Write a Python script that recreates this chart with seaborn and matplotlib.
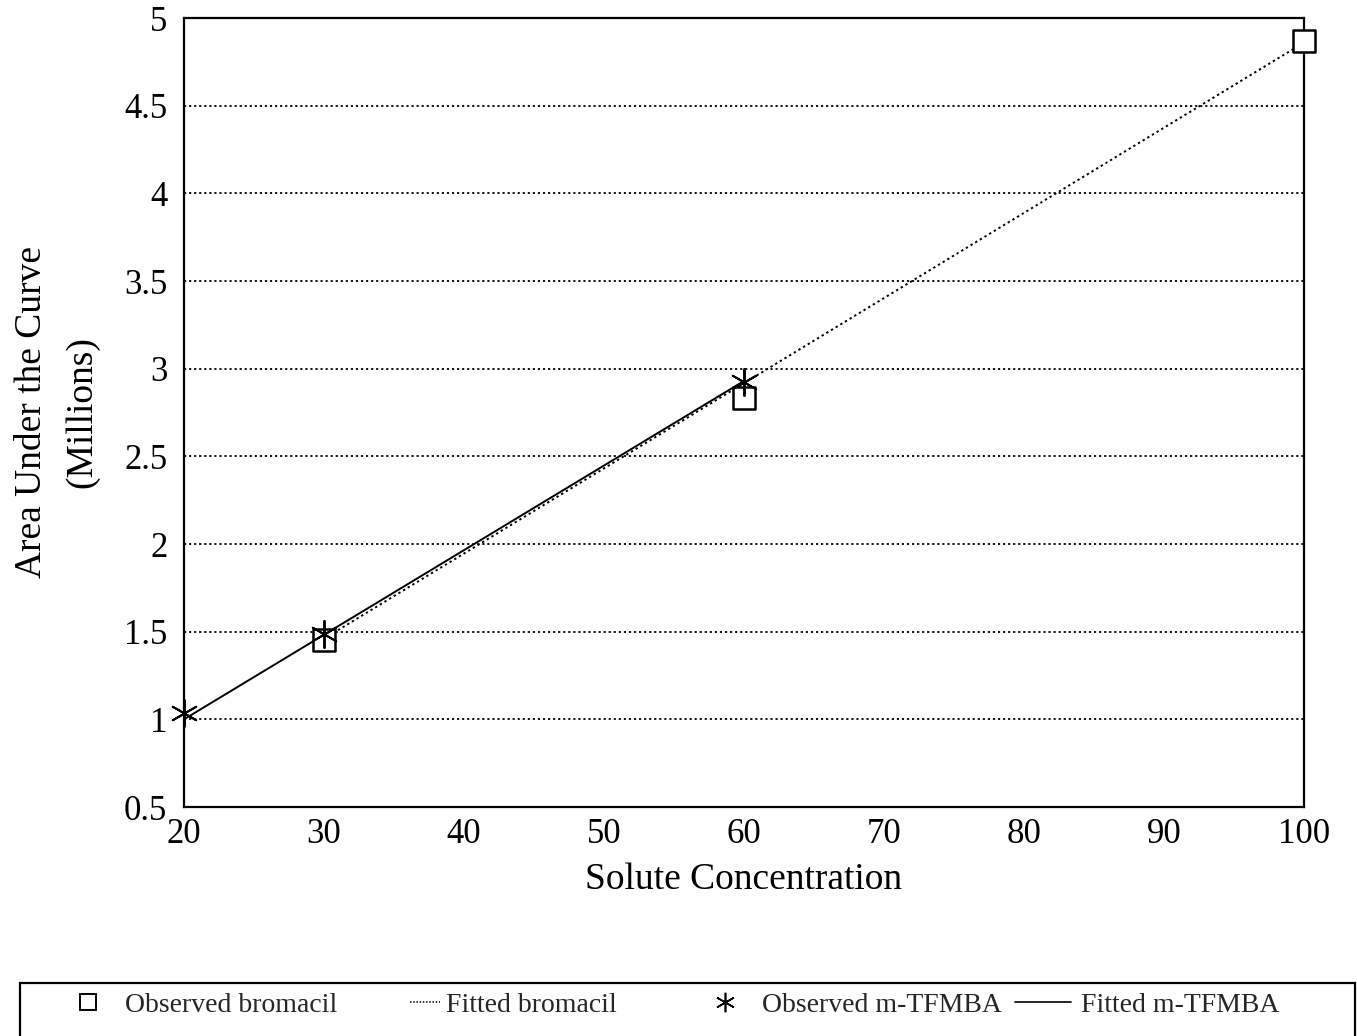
import matplotlib
matplotlib.use("Agg")
import matplotlib.pyplot as plt
from matplotlib.patches import Rectangle
from matplotlib.lines import Line2D
import seaborn as sns
import pandas as pd

# Observed peak areas (millions) at each solute concentration
bromacil_conc = [30, 60, 100]
bromacil_area = [1.45, 2.83, 4.87]
tfmba_conc = [20, 30, 60]
tfmba_area = [1.035, 1.485, 2.925]

# Fitted calibration lines (end points)
bromacil_fit_conc = [30, 100]
bromacil_fit_area = [1.46, 4.86]
tfmba_fit_conc = [20, 60]
tfmba_fit_area = [1.00, 2.93]

x_ticks = [20, 30, 40, 50, 60, 70, 80, 90, 100]
y_ticks = [0.5, 1, 1.5, 2, 2.5, 3, 3.5, 4, 4.5, 5]
y_tick_labels = ["0.5", "1", "1.5", "2", "2.5", "3", "3.5", "4", "4.5", "5"]

sns.set_theme(style="white")
plt.rcParams["font.family"] = ["Liberation Serif", "DejaVu Serif"]

W, H = 1357, 1036
fig = plt.figure(figsize=(W / 100, H / 100), dpi=100)
ax = fig.add_axes([184 / W, 1 - 807 / H, (1304 - 184) / W, (807 - 18) / H])

dotted = (0, (1.2, 1.6))

# horizontal dotted grid
for yv in y_ticks[1:-1]:
    ax.axhline(yv, color="black", linestyle=dotted, linewidth=1.3, zorder=1)

brom_fit = pd.DataFrame({"conc": bromacil_fit_conc, "area": bromacil_fit_area})
tf_fit = pd.DataFrame({"conc": tfmba_fit_conc, "area": tfmba_fit_area})
brom_obs = pd.DataFrame({"conc": bromacil_conc, "area": bromacil_area})
tf_obs = pd.DataFrame({"conc": tfmba_conc, "area": tfmba_area})

sns.lineplot(data=brom_fit, x="conc", y="area", ax=ax, color="black",
             linestyle=dotted, linewidth=1.4, zorder=3)
sns.lineplot(data=tf_fit, x="conc", y="area", ax=ax, color="black",
             linewidth=1.4, zorder=3)

asterisk = (6, 2, 0)
sns.scatterplot(data=brom_obs, x="conc", y="area", ax=ax, marker="s", s=240,
                facecolor="white", edgecolor="black", linewidth=1.8, zorder=4, clip_on=False)
sns.scatterplot(data=tf_obs, x="conc", y="area", ax=ax, marker=asterisk, s=380,
                color="black", linewidth=1.4, zorder=5, clip_on=False)

ax.set_xlim(20, 100)
ax.set_ylim(0.5, 5)
ax.set_xticks(x_ticks)
ax.set_xticklabels([str(v) for v in x_ticks])
ax.set_yticks(y_ticks)
ax.set_yticklabels(y_tick_labels)
ax.tick_params(axis="x", direction="in", length=9, width=1.4, labelsize=25, pad=8, colors="black")
ax.tick_params(axis="y", direction="out", length=11, width=1.4, labelsize=25, pad=1, colors="black")
for sp in ax.spines.values():
    sp.set_color("black")
    sp.set_linewidth(1.6)

ax.set_xlabel("Solute Concentration", fontsize=27, labelpad=8, color="black")
ax.set_ylabel("Area Under the Curve\n(Millions)", fontsize=27, labelpad=18,
              color="black", linespacing=1.6)

# legend box along the bottom of the figure
fig.patches.append(Rectangle((20 / W, -0.02), 1335 / W, 1 - 983 / H + 0.02,
                             transform=fig.transFigure, fill=False,
                             edgecolor="black", linewidth=1.6))

legend_fs = 20
legend_y = 1 - 1005 / H
entries = [
    (Line2D([], [], marker="s", markersize=12, markerfacecolor="white",
            markeredgecolor="black", markeredgewidth=1.4, linestyle="none"),
     "Observed bromacil", 74, 1.0, 0.83),
    (Line2D([], [], color="black", linestyle=(0, (1, 1.1)), linewidth=1.1),
     "Fitted bromacil", 410, 1.08, 0.2),
    (Line2D([], [], marker=asterisk, markersize=14, color="black",
            markeredgewidth=1.2, linestyle="none"),
     "Observed m-TFMBA", 711, 1.0, 0.83),
    (Line2D([], [], color="black", linewidth=1.2),
     "Fitted m-TFMBA", 1015, 2.0, 0.36),
]
for handle, label, x0, hl, hp in entries:
    fig.legend([handle], [label], loc="center left", bbox_to_anchor=(x0 / W, legend_y),
               frameon=False, fontsize=legend_fs, handlelength=hl, handletextpad=hp,
               borderpad=0, borderaxespad=0)

fig.savefig("out.png", dpi=100, facecolor="white")
